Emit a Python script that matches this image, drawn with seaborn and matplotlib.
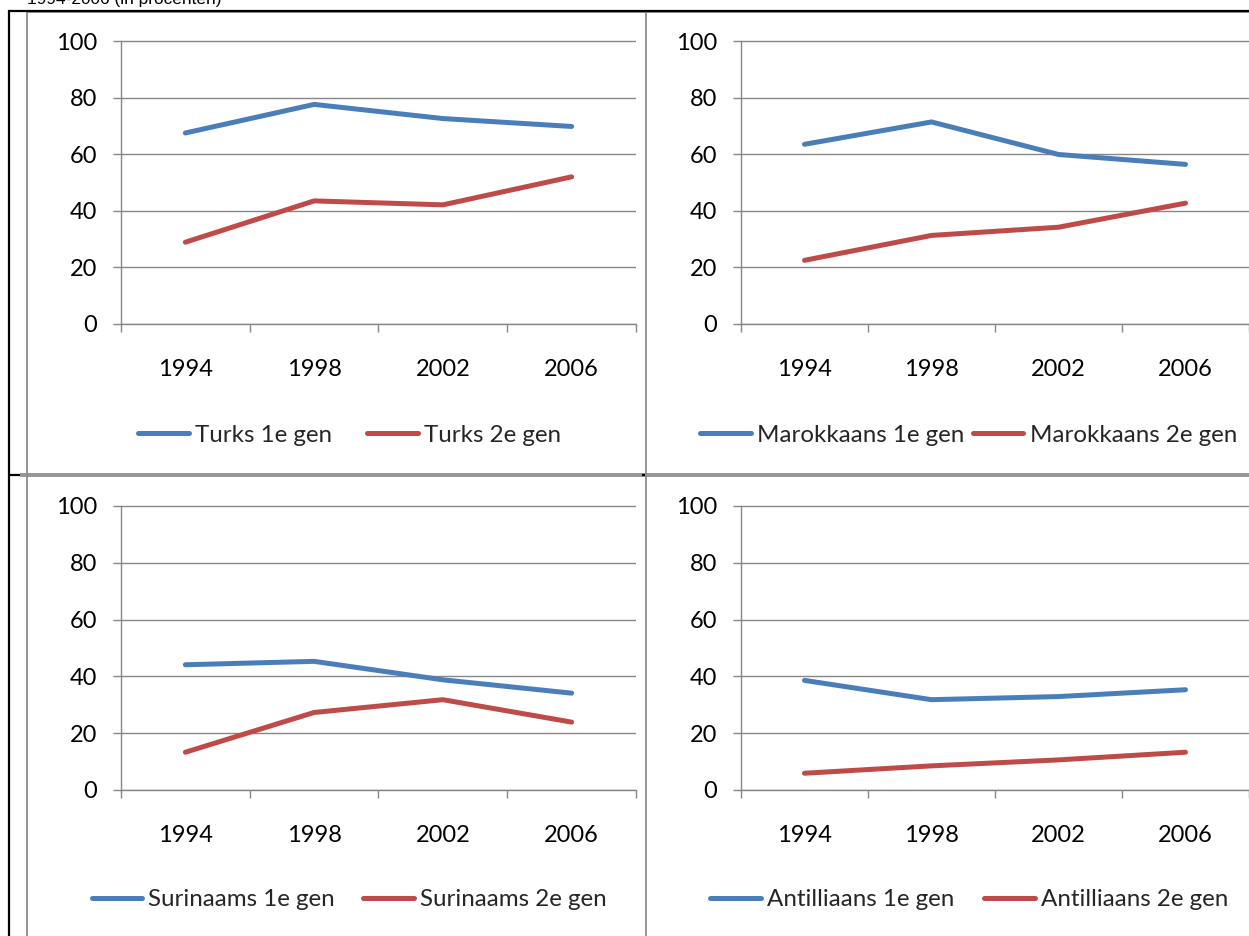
import matplotlib
matplotlib.use("Agg")
import matplotlib.pyplot as plt
from matplotlib.lines import Line2D
import pandas as pd
import seaborn as sns

# Survey years (category axis)
years = ["1994", "1998", "2002", "2006"]

# Percentages per origin group, first and second generation
turks_1e = [67.5, 77.6, 72.6, 69.8]
turks_2e = [28.9, 43.5, 42.1, 52.0]
marokkaans_1e = [63.5, 71.4, 59.9, 56.4]
marokkaans_2e = [22.5, 31.3, 34.2, 42.7]
surinaams_1e = [44.1, 45.3, 38.8, 34.1]
surinaams_2e = [13.3, 27.3, 31.8, 23.9]
antilliaans_1e = [38.6, 31.8, 32.9, 35.3]
antilliaans_2e = [5.9, 8.5, 10.6, 13.3]

groups = ["Turks", "Marokkaans", "Surinaams", "Antilliaans"]
series = [
    (turks_1e, turks_2e),
    (marokkaans_1e, marokkaans_2e),
    (surinaams_1e, surinaams_2e),
    (antilliaans_1e, antilliaans_2e),
]
y_ticks = [0, 20, 40, 60, 80, 100]

W, H = 1249, 936
sns.set_theme(style="white")
plt.rcParams["font.family"] = ["Lato", "DejaVu Sans"]

BLUE = "#4A7EBB"
RED = "#BE4B48"
GRAY = "#878787"
FS = 17
FS_LEG = 17.4

fig = plt.figure(figsize=(W / 100, H / 100), dpi=100)


def fx(px):
    return px / W


def fy(py):
    return 1 - py / H


# panel boxes in pixels: plot left, plot right, y of 100, y of 0,
# legend centre x, legend centre y, legend column spacing
boxes = [
    (121, 636, 41, 324, 349.5, 435, 1.45),
    (741, 1249, 41, 324, 968.5, 435, 0.35),
    (121, 636, 506, 790, 349, 900, 1.15),
    (741, 1249, 506, 790, 969, 900, 1.25),
]

YMAX = 101
for (xl, xr, y100, y0, lcx, lcy, csp), name, (s1, s2) in zip(boxes, groups, series):
    ytop = y100 - (y0 - y100) / 100 * (YMAX - 100)
    ax = fig.add_axes([fx(xl), fy(y0), (xr - xl) / W, (y0 - ytop) / H])
    lab1, lab2 = f"{name} 1e gen", f"{name} 2e gen"
    df = pd.DataFrame({
        "jaar": years * 2,
        "pct": list(s1) + list(s2),
        "serie": [lab1] * len(years) + [lab2] * len(years),
    })
    sns.lineplot(data=df, x="jaar", y="pct", hue="serie", palette=[BLUE, RED],
                 linewidth=3.6, sort=False, legend=False, ax=ax,
                 solid_capstyle="round", solid_joinstyle="round")
    ax.set_xlim(-0.5, len(years) - 0.5)
    ax.set_ylim(0, YMAX)
    ax.set_xlabel("")
    ax.set_ylabel("")

    for side in ("top", "right"):
        ax.spines[side].set_visible(False)
    for side in ("left", "bottom"):
        ax.spines[side].set_color(GRAY)
        ax.spines[side].set_linewidth(1.0)
    ax.spines["left"].set_bounds(0, 100)

    ax.set_yticks(y_ticks)
    ax.set_yticklabels([str(v) for v in y_ticks])
    ax.yaxis.grid(True, color=GRAY, linewidth=1.0)
    ax.xaxis.grid(False)
    ax.set_axisbelow(True)

    ax.set_xticks([i - 0.5 for i in range(len(years) + 1)])
    ax.set_xticklabels([])
    ax.set_xticks(range(len(years)), minor=True)
    ax.set_xticklabels(years, minor=True)
    ax.tick_params(axis="x", which="major", bottom=True, length=5.8, width=1.0,
                   color=GRAY, direction="out")
    ax.tick_params(axis="x", which="minor", bottom=True, length=0, pad=25.5,
                   labelsize=FS, labelcolor="black")
    ax.tick_params(axis="y", left=True, length=5.8, width=1.0, color=GRAY,
                   direction="out", pad=11.5, labelsize=FS, labelcolor="black")

    handles = [Line2D([], [], color=BLUE, lw=3.6, solid_capstyle="round"),
               Line2D([], [], color=RED, lw=3.6, solid_capstyle="round")]
    ax.legend(handles, [lab1, lab2], loc="center",
              bbox_to_anchor=(fx(lcx), fy(lcy)), bbox_transform=fig.transFigure,
              ncol=2, frameon=False, fontsize=FS_LEG, handlelength=2.1,
              handletextpad=0.25, columnspacing=csp, borderaxespad=0, borderpad=0)


def fig_line(x0, y0, x1, y1, color, lw):
    fig.add_artist(Line2D([fx(x0), fx(x1)], [fy(y0), fy(y1)],
                          transform=fig.transFigure, color=color, lw=lw,
                          solid_capstyle="butt"))


# chart frames
CF = "#8c8c8c"
fig_line(26.5, 11, 26.5, H, CF, 1.3)
fig_line(646, 11, 646, H, CF, 1.3)
fig_line(26, 12, W, 12, CF, 1.3)
fig_line(20, 474, W, 474, CF, 1.3)
fig_line(20, 476.5, W, 476.5, CF, 1.3)

# table rules
fig_line(8.5, 10, 8.5, H, "black", 1.6)
fig_line(8, 10.5, W, 10.5, "black", 1.6)
fig_line(8, 475, 20, 475, "black", 1.6)
fig_line(642, 475, 645, 475, "black", 1.6)

fig.text(fx(27), fy(4), "1994-2006 (in procenten)", ha="left", va="baseline",
         fontsize=12.4, family=["Liberation Sans", "DejaVu Sans"], color="black")

fig.savefig("out.png", dpi=100)
